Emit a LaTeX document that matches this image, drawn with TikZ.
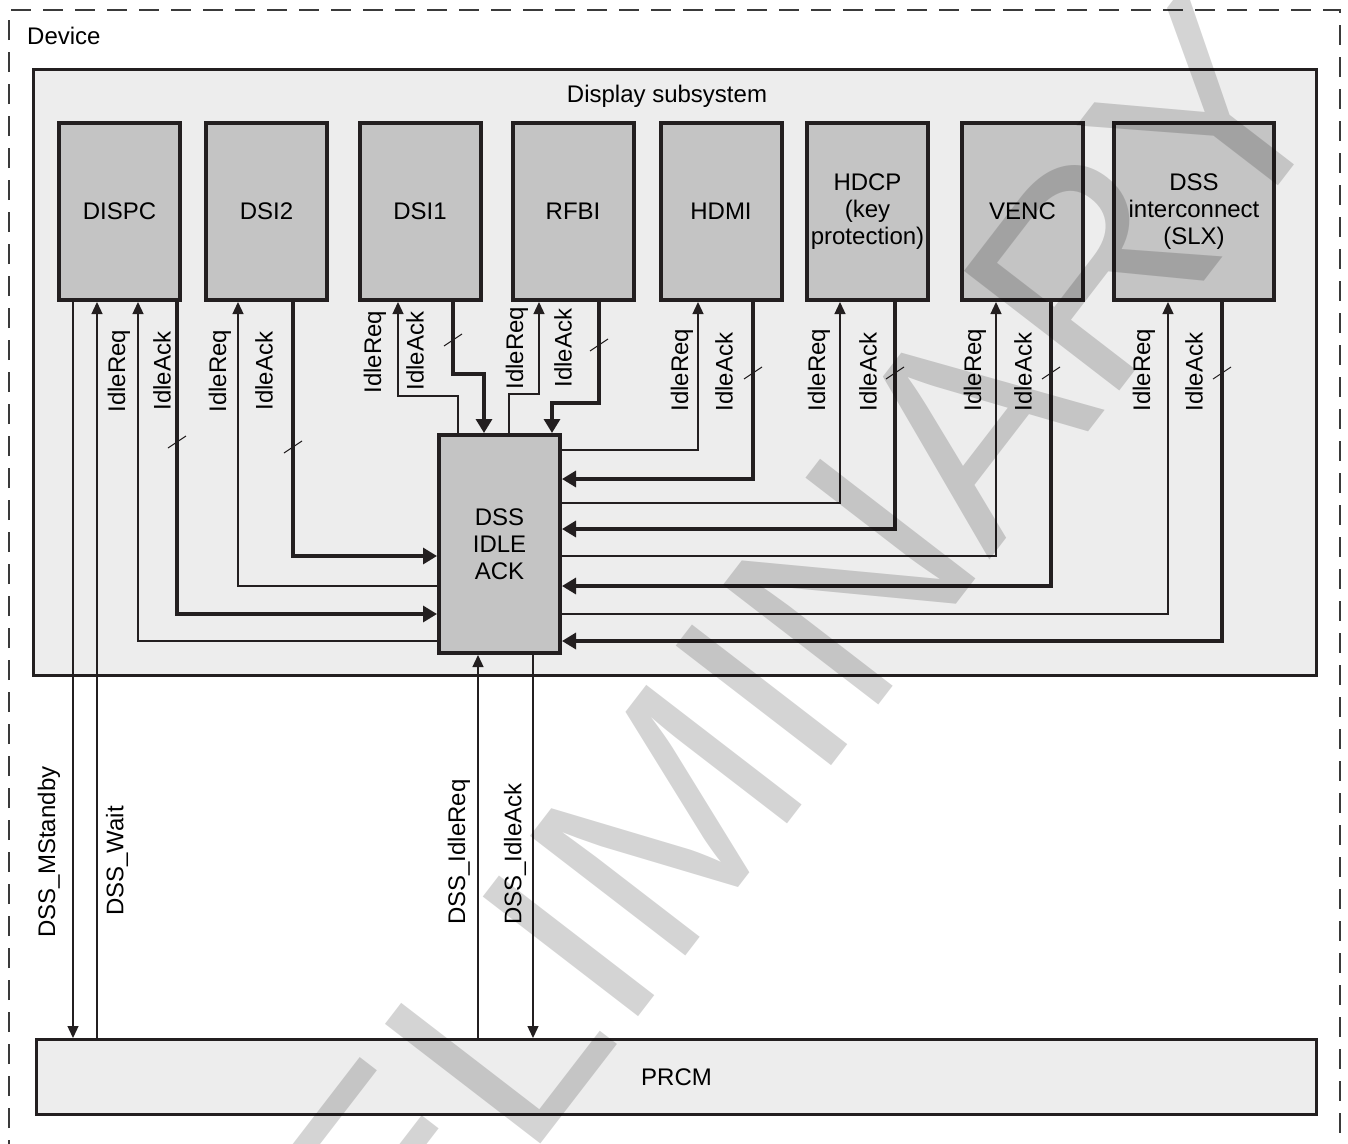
\documentclass[tikz,border=0pt]{standalone}
\usepackage{fontspec}
\setmainfont{Liberation Sans}
\usetikzlibrary{arrows.meta}
\definecolor{dssline}{HTML}{231F20}
\definecolor{dssblock}{HTML}{C4C4C4}
\definecolor{dssback}{HTML}{EDEDED}
\definecolor{dssdash}{HTML}{3A3A3A}

\begin{document}
\begin{tikzpicture}[
      x=1pt,y=-1pt,
      font=\fontsize{24}{27}\selectfont,
      block/.style={draw=dssline,line width=4pt,fill=dssblock,
        minimum width=121pt,minimum height=177pt,align=center,inner sep=0pt},
      frame/.style={draw=dssline,line width=3pt,fill=dssback},
      sig/.style={rotate=90,inner sep=0pt},
      req/.style={draw=dssline,line width=1.3pt,-{Triangle[length=12pt,width=11pt]}},
      ack/.style={draw=dssline,line width=3.3pt,-{Triangle[length=14pt,width=16pt]}},
      busmark/.style={draw=dssline,line width=1pt}
    ]
    \useasboundingbox (0,0) rectangle (1348,1143);
    \draw[dssdash,line width=2pt,dash pattern=on 20pt off 12pt]
      (9,1160) -- (9,10) -- (1340,10) -- (1340,1160);
    \node[anchor=west,inner sep=0pt] (devlbl) at (27,36) {Device};

    \node[frame,minimum width=1283pt,minimum height=606pt] (dss) at (675,372.5) {};
    \node (dsslbl) at (667,96) {Display subsystem};
    \node[frame,minimum width=1280pt,minimum height=75pt] (prcm) at (676.5,1077) {PRCM};

    \node[block] (dispc) at (119.5,211.5) {DISPC};
    \node[block] (dsi2) at (266.5,211.5) {DSI2};
    \node[block] (dsi1) at (420,211.5) {\raisebox{-4pt}{DSI1}};
    \node[block] (rfbi) at (573,211.5) {RFBI};
    \node[block] (hdmi) at (721,211.5) {HDMI};
    \node[block] (hdcp) at (867.5,211.5) {HDCP\\(key\\protection)};
    \node[block] (venc) at (1022.5,211.5) {VENC};
    \node[block,minimum width=160pt] (slx) at (1194,211.5) {DSS\\interconnect\\(SLX)};
    \node[block,minimum height=218pt] (idle) at (499.5,544) {DSS\\IDLE\\ACK};

    % DISPC and DSI2 into the left side
    \draw[req] (idle.west |- 0,641) -| (dispc.south -| 138,0);
    \draw[ack] (dispc.south -| 177,0) |- (idle.west |- 0,614);
    \draw[req] (idle.west |- 0,586) -| (dsi2.south -| 238,0);
    \draw[ack] (dsi2.south -| 293,0) |- (idle.west |- 0,556);
    % DSI1 and RFBI into the top
    \draw[req] (idle.north -| 458,0) |- (398,396) -- (dsi1.south -| 398,0);
    \draw[ack] (dsi1.south -| 453,0) |- (484,374) -- (idle.north -| 484,0);
    \draw[req] (idle.north -| 509,0) |- (539,394) -- (rfbi.south -| 539,0);
    \draw[ack] (rfbi.south -| 599,0) |- (552,403) -- (idle.north -| 552,0);
    % the others into the right side
    \draw[req] (idle.east |- 0,450) -| (hdmi.south -| 698,0);
    \draw[ack] (hdmi.south -| 753,0) |- (idle.east |- 0,479);
    \draw[req] (idle.east |- 0,503) -| (hdcp.south -| 840,0);
    \draw[ack] (hdcp.south -| 895,0) |- (idle.east |- 0,529);
    \draw[req] (idle.east |- 0,556) -| (venc.south -| 996,0);
    \draw[ack] (venc.south -| 1051,0) |- (idle.east |- 0,586);
    \draw[req] (idle.east |- 0,614) -| (slx.south -| 1168,0);
    \draw[ack] (slx.south -| 1222,0) |- (idle.east |- 0,641);
    % to and from PRCM
    \draw[req] (dispc.south -| 73,0) -- (prcm.north -| 73,0);
    \draw[req] (prcm.north -| 97,0) -- (dispc.south -| 97,0);
    \draw[req] (prcm.north -| 478,0) -- (idle.south -| 478,0);
    \draw[req] (idle.south -| 533,0) -- (prcm.north -| 533,0);

    % bus marks
    \draw[busmark] (168,448) -- ++(18,-12);
    \draw[busmark] (284,453) -- ++(18,-12);
    \draw[busmark] (444,346) -- ++(18,-12);
    \draw[busmark] (590,351) -- ++(18,-12);
    \draw[busmark] (744,379) -- ++(18,-12);
    \draw[busmark] (886,379) -- ++(18,-12);
    \draw[busmark] (1042,379) -- ++(18,-12);
    \draw[busmark] (1213,379) -- ++(18,-12);

    \node[sig] (dispcreq) at (119,371) {IdleReq};
    \node[sig] (dispcack) at (162,371) {IdleAck};
    \node[sig] (dsi2req) at (220,371) {IdleReq};
    \node[sig] (dsi2ack) at (264,371) {IdleAck};
    \node[sig] (dsi1req) at (375,352) {IdleReq};
    \node[sig] (dsi1ack) at (415,351) {IdleAck};
    \node[sig] (rfbireq) at (517,348) {IdleReq};
    \node[sig] (rfbiack) at (563,348) {IdleAck};
    \node[sig] (hdmireq) at (682,370) {IdleReq};
    \node[sig] (hdmiack) at (724,372) {IdleAck};
    \node[sig] (hdcpreq) at (819,370) {IdleReq};
    \node[sig] (hdcpack) at (868,372) {IdleAck};
    \node[sig] (vencreq) at (975,370) {IdleReq};
    \node[sig] (vencack) at (1023,372) {IdleAck};
    \node[sig] (slxreq) at (1144,370) {IdleReq};
    \node[sig] (slxack) at (1194,372) {IdleAck};
    \node[sig] (standbylbl) at (49,852) {DSS\_MStandby};
    \node[sig] (waitlbl) at (117,861) {DSS\_Wait};
    \node[sig] (idlereqlbl) at (459,852) {DSS\_IdleReq};
    \node[sig] (idleacklbl) at (515,854) {DSS\_IdleAck};

    \node[rotate=52.4,anchor=base west,inner sep=0pt,text=black,text opacity=0.17,
      font=\fontsize{285}{285}\selectfont] (wmark) at (168.5,1627) {PRELIMINARY};
  \end{tikzpicture}
\end{document}
